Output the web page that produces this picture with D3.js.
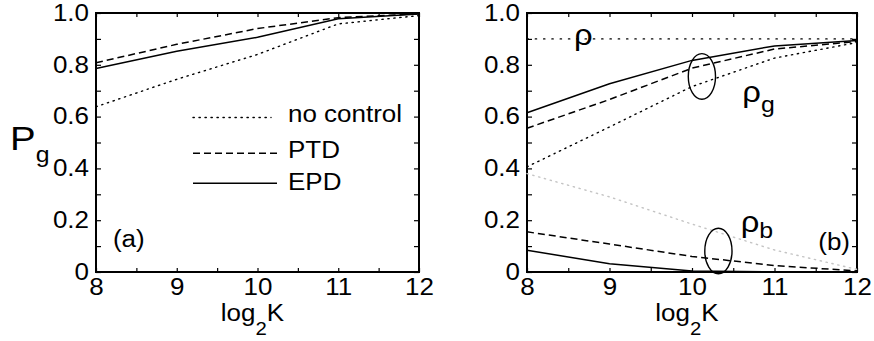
<!DOCTYPE html>
<html>
<head>
<meta charset="utf-8">
<script src="https://cdn.jsdelivr.net/npm/d3@7"></script>
<style>
  body { margin: 0; background: #fff; }
  svg { display: block; }
  text { font-family: "Liberation Sans", Arial, Helvetica, sans-serif; fill: #000; }
</style>
</head>
<body>
<div id="chart"></div>
<script>
"use strict";

// x values (log2 K) and tick labels
const log2K = [8, 9, 10, 11, 12];
const xTickLabels = ["8", "9", "10", "11", "12"];
const yTickLabels = ["0", "0.2", "0.4", "0.6", "0.8", "1.0"];

// panel (a): P_g
const pgNoControl = [0.638, 0.744, 0.840, 0.958, 0.990];
const pgPTD       = [0.808, 0.879, 0.940, 0.982, 0.997];
const pgEPD       = [0.786, 0.852, 0.906, 0.978, 0.996];

// panel (b): rho, rho_g, rho_b
const rho = 0.9;
const rhoGNoControl = [0.406, 0.560, 0.716, 0.826, 0.886];
const rhoGPTD       = [0.555, 0.666, 0.787, 0.861, 0.890];
const rhoGEPD       = [0.615, 0.727, 0.817, 0.873, 0.894];
const rhoBNoControl = [0.380, 0.290, 0.185, 0.085, 0.010];
const rhoBPTD       = [0.155, 0.108, 0.060, 0.025, 0.004];
const rhoBEPD       = [0.084, 0.032, 0.004, 0.000, 0.000];

const legendNames = ["no control", "PTD", "EPD"];

const width = 874, height = 341;
// the original lettering is a bit wider than Liberation Sans
const SX = 1.13;

const svg = d3.select("#chart").append("svg")
    .attr("width", width)
    .attr("height", height);

const dashes = {
    dot: "1.3,4.7",
    dash: "7,4",
    solid: null
};

// text placed at (x, y) and widened horizontally
function addText(parent, x, y, size, anchor) {
    return parent.append("text")
        .attr("transform", "translate(" + x + "," + y + ") scale(" + SX + ",1)")
        .attr("text-anchor", anchor || "start")
        .style("font-size", size + "px");
}

function drawPanel(left, right, top, bottom) {
    let x = d3.scaleLinear().domain([8, 12]).range([left, right]);
    let y = d3.scaleLinear().domain([0, 1]).range([bottom, top]);
    let g = svg.append("g");

    let xMinor = d3.range(8, 12.01, 0.5);
    let yMinor = d3.range(0, 1.001, 0.1).map(v => Math.round(v * 10) / 10);

    // ticks point into the frame on all four sides
    g.append("g")
        .attr("transform", "translate(0," + bottom + ")")
        .call(d3.axisBottom(x).tickValues(xMinor).tickSize(-4).tickPadding(7)
            .tickFormat(d => Number.isInteger(d) ? xTickLabels[log2K.indexOf(d)] : ""));
    g.append("g")
        .attr("transform", "translate(0," + top + ")")
        .call(d3.axisTop(x).tickValues(xMinor).tickSize(-4).tickFormat(""));
    g.append("g")
        .attr("transform", "translate(" + left + ",0)")
        .call(d3.axisLeft(y).tickValues(yMinor).tickSize(-5).tickPadding(7)
            .tickFormat(d => (Math.round(d * 10) % 2 === 0) ? yTickLabels[Math.round(d * 5)] : ""));
    g.append("g")
        .attr("transform", "translate(" + right + ",0)")
        .call(d3.axisRight(y).tickValues(yMinor).tickSize(-5).tickFormat(""));

    g.selectAll(".domain").remove();
    g.selectAll(".tick line").attr("stroke", "#000").attr("stroke-width", 1.2);
    g.selectAll(".tick text")
        .style("font-family", "'Liberation Sans', Arial, sans-serif")
        .style("font-size", "23px")
        .attr("fill", "#000")
        .each(function() {
            let t = d3.select(this);
            let x0 = +t.attr("x") || 0;
            t.attr("x", x0 / SX).attr("transform", "scale(" + SX + ",1)");
        });

    g.append("rect")
        .attr("x", left).attr("y", top)
        .attr("width", right - left).attr("height", bottom - top)
        .attr("fill", "none")
        .attr("stroke", "#000")
        .attr("stroke-width", 2);

    // x-axis title: log2K
    let t = addText(g, (left + right) / 2 - 5, 321, 23, "middle");
    t.append("tspan").text("log");
    t.append("tspan").attr("dy", 14).style("font-size", "18px").text("2");
    t.append("tspan").attr("dy", -14).text("K");

    return {g: g, x: x, y: y};
}

function drawLine(p, values, style, color) {
    let line = d3.line()
        .x((d, i) => p.x(log2K[i]))
        .y(d => p.y(d));
    p.g.append("path")
        .datum(values)
        .attr("fill", "none")
        .attr("stroke", color || "#000")
        .attr("stroke-width", style === "dot" ? 1.4 : 1.5)
        .attr("stroke-linecap", style === "dot" ? "round" : "butt")
        .attr("stroke-dasharray", dashes[style])
        .attr("d", line);
}

// ---- panel (a)
let pa = drawPanel(96, 419, 13, 272);
drawLine(pa, pgNoControl, "dot");
drawLine(pa, pgPTD, "dash");
drawLine(pa, pgEPD, "solid");

// legend
let legendStyles = ["dot", "dash", "solid"];
let legendY = [117.5, 153.3, 183.3];
let legendBase = [122, 158, 190];
legendNames.forEach((name, i) => {
    pa.g.append("line")
        .attr("x1", 193).attr("x2", legendStyles[i] === "dot" ? 271 : 277)
        .attr("y1", legendY[i]).attr("y2", legendY[i])
        .attr("stroke", "#000")
        .attr("stroke-width", 1.4)
        .attr("stroke-linecap", legendStyles[i] === "dot" ? "round" : "butt")
        .attr("stroke-dasharray", dashes[legendStyles[i]]);
    addText(pa.g, 288, legendBase[i], 23).text(name);
});

addText(pa.g, pa.x(8.21), pa.y(0.097), 23).text("(a)");

// y label P_g
let pl = addText(svg, 10, 150, 34);
pl.append("tspan").text("P");
pl.append("tspan").attr("dy", 12).style("font-size", "22px").text("g");

// ---- panel (b)
let pb = drawPanel(527, 857, 13, 272);

pb.g.append("line")
    .attr("x1", pb.x(8)).attr("x2", pb.x(12))
    .attr("y1", pb.y(rho)).attr("y2", pb.y(rho))
    .attr("stroke", "#000")
    .attr("stroke-width", 1.4)
    .attr("stroke-linecap", "round")
    .attr("stroke-dasharray", "1.3,7");

drawLine(pb, rhoGNoControl, "dot");
drawLine(pb, rhoGPTD, "dash");
drawLine(pb, rhoGEPD, "solid");
drawLine(pb, rhoBNoControl, "dot", "#c4c4c4");
drawLine(pb, rhoBPTD, "dash");
drawLine(pb, rhoBEPD, "solid");

// ellipses grouping the curves (centre and half-axes in data units)
const ellipseK = [10.12, 10.32];
const ellipseV = [0.755, 0.081];
ellipseK.forEach((k, i) => {
    pb.g.append("ellipse")
        .attr("cx", pb.x(k))
        .attr("cy", pb.y(ellipseV[i]))
        .attr("rx", pb.x(k + 0.165) - pb.x(k))
        .attr("ry", pb.y(0) - pb.y(0.088))
        .attr("fill", "none")
        .attr("stroke", "#000")
        .attr("stroke-width", 1.4);
});

addText(pb.g, pb.x(8.57), pb.y(0.877), 29).text("ρ");

let rg = addText(pb.g, pb.x(10.61), pb.y(0.657), 29);
rg.append("tspan").text("ρ");
rg.append("tspan").attr("dy", 10).style("font-size", "22px").text("g");

let rb = addText(pb.g, pb.x(10.59), pb.y(0.154), 29);
rb.append("tspan").text("ρ");
rb.append("tspan").attr("dy", 6).style("font-size", "22px").text("b");

addText(pb.g, pb.x(11.53), pb.y(0.084), 23).text("(b)");
</script>
</body>
</html>
